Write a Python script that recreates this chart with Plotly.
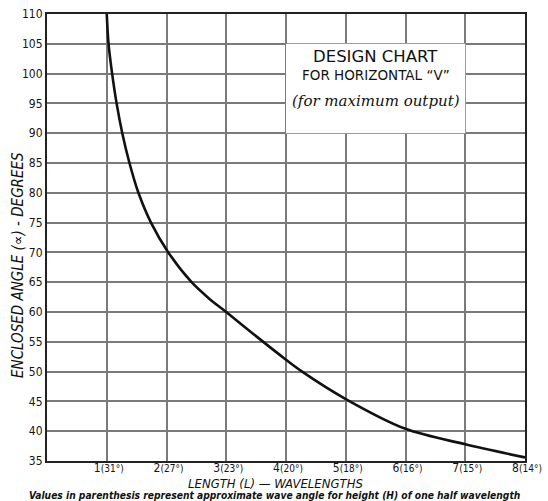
import plotly.graph_objects as go

# Length of each leg in wavelengths vs. enclosed angle for a horizontal "V"
length_wl = [1.00, 1.03, 1.09, 1.165, 1.26, 1.38, 1.53, 1.74, 2.03, 2.42, 2.72, 3.0, 3.53, 4.0, 4.27, 5.0, 6.0, 7.0, 8.0]
angle_deg = [110, 105, 100, 95, 90, 85, 80, 75, 70, 65, 62.2, 60, 55.7, 52, 50, 45.4, 40.4, 37.8, 35.6]

x_ticks = [1, 2, 3, 4, 5, 6, 7, 8]
wave_angles = ["31°", "27°", "23°", "20°", "18°", "16°", "15°", "14°"]
y_ticks = list(range(35, 115, 5))

tick_text = [f"{n}<span style='font-size:10px'>({w})</span>" for n, w in zip(x_ticks, wave_angles)]

fig = go.Figure()
fig.add_trace(go.Scatter(
    x=length_wl, y=angle_deg, mode="lines",
    line=dict(color="#111111", width=2.6, shape="spline", smoothing=0.9),
    hoverinfo="skip", showlegend=False,
))

grid = "#7a7a7a"
fig.update_layout(
    width=548, height=501,
    margin=dict(l=47, r=23, t=14, b=40),
    paper_bgcolor="white", plot_bgcolor="white",
    font=dict(family="DejaVu Sans Condensed, DejaVu Sans", color="#151515"),
    xaxis=dict(
        range=[0, 8], tickvals=x_ticks, ticktext=tick_text, automargin=False,
        showgrid=True, gridcolor=grid, gridwidth=1.6,
        showline=True, linecolor="#222", linewidth=2, mirror=True,
        zeroline=False, ticks="", tickfont=dict(size=12, color="#151515"),
        ticklabelshift=2, ticklabelstandoff=-5, ticklabeloverflow="allow",
    ),
    yaxis=dict(
        range=[35, 110], tickvals=y_ticks, automargin=False,
        showgrid=True, gridcolor=grid, gridwidth=1.6,
        showline=True, linecolor="#222", linewidth=2, mirror=True,
        zeroline=False, ticks="", tickfont=dict(size=12, color="#151515"),
    ),
    shapes=[dict(
        type="rect", xref="x", yref="y", x0=4, x1=7, y0=90, y1=105,
        fillcolor="white", line=dict(width=0), layer="above",
    )],
    annotations=[
        dict(text="DESIGN CHART", x=5.5, y=102.9, xref="x", yref="y",
             showarrow=False, font=dict(size=16.5, family="DejaVu Sans", color="#111")),
        dict(text="FOR HORIZONTAL \u201cV\u201d", x=5.5, y=99.7, xref="x", yref="y",
             showarrow=False, font=dict(size=13.5, family="DejaVu Sans", color="#111")),
        dict(text="<i>(for maximum output)</i>", x=5.5, y=95.4, xref="x", yref="y",
             showarrow=False, font=dict(size=15, family="DejaVu Serif", color="#111")),
        dict(text="<i>ENCLOSED ANGLE (\u221d) - DEGREES</i>", x=-0.0607, y=0.4385,
             xref="paper", yref="paper", xanchor="center", yanchor="middle",
             showarrow=False, textangle=-90, font=dict(size=15, color="#111")),
        dict(text="<i>LENGTH (L) \u2014 WAVELENGTHS</i>", x=0.479, y=-0.0505,
             xref="paper", yref="paper", xanchor="center", yanchor="middle",
             showarrow=False, font=dict(size=13, color="#111")),
        dict(text="<b><i>Values in parenthesis represent approximate wave angle for height (H) of one half wavelength</i></b>",
             x=0.475, y=-0.0765, xref="paper", yref="paper", xanchor="center", yanchor="middle",
             showarrow=False, font=dict(size=10.2, color="#111")),
    ],
)

fig.write_html("out.html")
